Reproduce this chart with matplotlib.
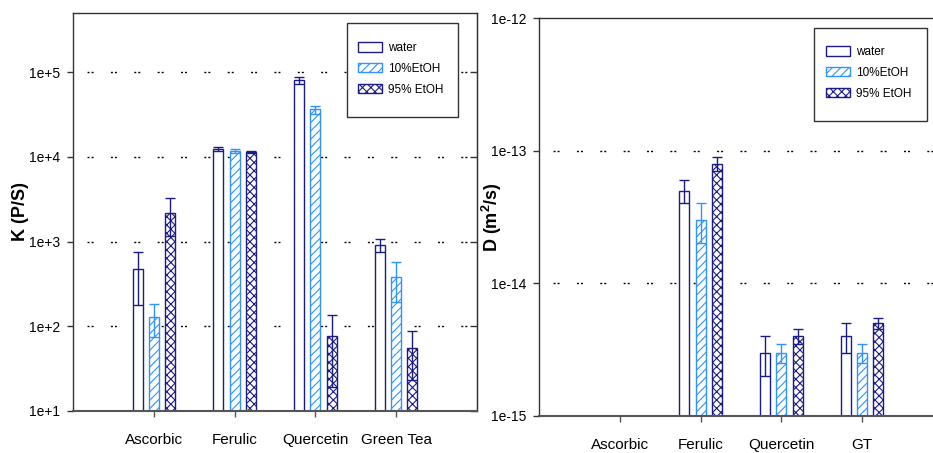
import numpy as np
import matplotlib
matplotlib.use("Agg")
import matplotlib.pyplot as plt
from matplotlib.patches import Rectangle

plt.rcParams['font.family'] = ['Liberation Sans', 'DejaVu Sans']
plt.rcParams['mathtext.fontset'] = 'custom'
plt.rcParams['mathtext.rm'] = 'Liberation Sans'
plt.rcParams['mathtext.bf'] = 'Liberation Sans:bold'
plt.rcParams['hatch.linewidth'] = 0.8

# ---- data -------------------------------------------------------------
series = ['water', '10%EtOH', '95% EtOH']

k_categories = ['Ascorbic', 'Ferulic', 'Quercetin', 'Green Tea']
k_water = [470, 12500, 80500, 910]
k_water_err = [290, 700, 7000, 160]
k_etoh10 = [130, 11800, 36300, 385]
k_etoh10_err = [55, 700, 4000, 190]
k_etoh95 = [2200, 11400, 77, 55]
k_etoh95_err = [1050, 400, 58, 32]
k_ticks = [1e1, 1e2, 1e3, 1e4, 1e5]
k_ticklabels = ['1e+1', '1e+2', '1e+3', '1e+4', '1e+5']

d_categories = ['Ascorbic', 'Ferulic', 'Quercetin', 'GT']
d_water = [np.nan, 5e-14, 3e-15, 4e-15]
d_water_err = [np.nan, 1e-14, 1e-15, 1e-15]
d_etoh10 = [np.nan, 3e-14, 3e-15, 3e-15]
d_etoh10_err = [np.nan, 1e-14, 0.5e-15, 0.5e-15]
d_etoh95 = [np.nan, 8e-14, 4e-15, 5e-15]
d_etoh95_err = [np.nan, 1e-14, 0.5e-15, 0.5e-15]
d_ticks = [1e-15, 1e-14, 1e-13, 1e-12]
d_ticklabels = ['1e-15', '1e-14', '1e-13', '1e-12']

# ---- styles -----------------------------------------------------------
NAVY = '#1c1c86'
BLUE = '#2f93ff'
styles = [
    dict(facecolor='white', edgecolor=NAVY, hatch=None, ecolor=NAVY),
    dict(facecolor='white', edgecolor=BLUE, hatch='////', ecolor=BLUE),
    dict(facecolor='white', edgecolor=NAVY, hatch='xxxx', ecolor=NAVY),
]
offsets = [-0.2, 0.0, 0.2]
bar_w = 0.125
grid_style = (6.7, (1.44, 1.44, 1.44, 12.5))

fig = plt.figure(figsize=(9.33, 4.53), dpi=100)


def draw_panel(ax, cats, vals, errs, ylim, ticks, ticklabels, grid_vals, ylabel,
               label_x, legend_box, legend_anchor, show_right):
    x = np.arange(len(cats))
    ax.set_yscale('log')
    ax.set_xlim(-1, len(cats))
    ax.set_ylim(*ylim)
    for gv in grid_vals:
        ax.axhline(gv, color='black', lw=1.0, linestyle=grid_style, zorder=0.5)
    handles = []
    for off, st, v, e, name in zip(offsets, styles, vals, errs, series):
        v = np.asarray(v, dtype=float)
        e = np.asarray(e, dtype=float)
        bars = ax.bar(x + off, v, width=bar_w, facecolor=st['facecolor'],
                      edgecolor=st['edgecolor'], hatch=st['hatch'], lw=1.0,
                      zorder=2, label=name)
        handles.append(bars)
        ax.errorbar(x + off, v, yerr=e, fmt='none', ecolor=st['ecolor'],
                    elinewidth=1.0, capsize=3.4, capthick=1.0, zorder=3)
    ax.set_xticks(x)
    ax.set_xticklabels(cats, fontsize=11)
    ax.set_yticks(ticks)
    ax.set_yticklabels(ticklabels, fontsize=10)
    ax.yaxis.set_minor_locator(matplotlib.ticker.NullLocator())
    ax.tick_params(axis='x', length=4, width=1, color='#555555', pad=12)
    ax.tick_params(axis='y', length=4, width=1, color='#333333', pad=5)
    for side in ['left', 'top', 'right']:
        ax.spines[side].set_color('#333333')
        ax.spines[side].set_linewidth(1.0)
    ax.spines['bottom'].set_color('#555555')
    ax.spines['bottom'].set_linewidth(1.5)
    if show_right:
        sec = ax.secondary_yaxis('right')
        sec.set_yticks(ticks)
        sec.set_yticklabels([])
        sec.yaxis.set_minor_locator(matplotlib.ticker.NullLocator())
        sec.tick_params(axis='y', direction='in', length=5, width=1, color='#333333')
        sec.spines['right'].set_color('#333333')
    ax.set_ylabel(ylabel, fontsize=13, fontweight='bold')
    ax.yaxis.set_label_coords(label_x, 0.5)
    # legend frame and entries
    ax.add_patch(Rectangle((legend_box[0], legend_box[1]), legend_box[2], legend_box[3],
                           transform=ax.transAxes, facecolor='white',
                           edgecolor='#333333', lw=1.0, zorder=4))
    leg = ax.legend(handles=handles, loc='upper left', bbox_to_anchor=legend_anchor,
                    frameon=False, fontsize=8.5, borderpad=0, borderaxespad=0,
                    handlelength=2.0, handleheight=0.85, handletextpad=0.55,
                    labelspacing=0.75)
    leg.set_zorder(5)


ax1 = fig.add_axes([73 / 933, 1 - 411 / 453, 404 / 933, 398 / 453])
draw_panel(ax1, k_categories,
           [k_water, k_etoh10, k_etoh95],
           [k_water_err, k_etoh10_err, k_etoh95_err],
           (1e1, 5e5), k_ticks, k_ticklabels, k_ticks[1:],
           'K (P/S)', -0.110,
           ((347 - 73) / 404, (411 - 117) / 398, 111 / 404, 94 / 398),
           ((358 - 73) / 404, (411 - 42) / 398), True)

ax2 = fig.add_axes([539 / 933, 1 - 416 / 453, 404 / 933, 398 / 453])
draw_panel(ax2, d_categories,
           [d_water, d_etoh10, d_etoh95],
           [d_water_err, d_etoh10_err, d_etoh95_err],
           (1e-15, 1e-12), d_ticks, d_ticklabels, d_ticks[1:3],
           r'D (m$^{\mathbf{2}}$/s)', -0.087,
           ((814 - 539) / 404, (416 - 121) / 398, 113 / 404, 93 / 398),
           ((826 - 539) / 404, (416 - 46) / 398), False)

fig.savefig('out.png', dpi=100)
